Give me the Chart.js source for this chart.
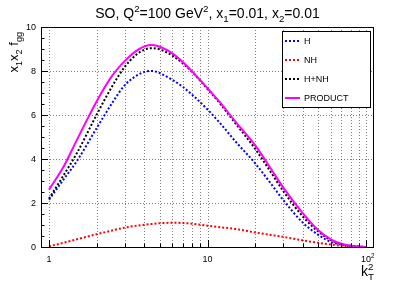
<!DOCTYPE html>
<html>
<head>
<meta charset="utf-8">
<script src="https://cdn.jsdelivr.net/npm/chart.js@4"></script>
<style>
  html, body { margin: 0; padding: 0; background: #fff; }
  #c { display: block; }
</style>
</head>
<body>
<canvas id="c" width="415" height="283"></canvas>
<script>
// values
var kT = [1, 1.25, 1.5, 2, 2.5, 3, 3.5, 4, 4.5, 5, 6, 7, 8, 10, 12, 15, 20, 25, 30, 40, 50, 60, 70, 80, 90, 100];
var H = [2.15, 3.12, 3.91, 5.41, 6.54, 7.35, 7.75, 7.96, 8.0, 7.9, 7.6, 7.27, 6.92, 6.25, 5.63, 4.8, 3.8, 2.9, 2.14, 1.1, 0.55, 0.23, 0.1, 0.04, 0.01, 0];
var NH = [0.03, 0.2, 0.35, 0.58, 0.75, 0.88, 0.96, 1.01, 1.05, 1.08, 1.1, 1.09, 1.06, 0.97, 0.9, 0.82, 0.66, 0.55, 0.46, 0.3, 0.19, 0.11, 0.06, 0.03, 0.01, 0];
var HNH = [2.2, 3.32, 4.27, 6.02, 7.3, 8.18, 8.7, 8.97, 9.04, 8.98, 8.7, 8.34, 7.96, 7.18, 6.52, 5.62, 4.46, 3.42, 2.55, 1.38, 0.7, 0.32, 0.14, 0.06, 0.02, 0];
var PROD = [2.6, 3.72, 4.87, 6.63, 7.78, 8.45, 8.88, 9.12, 9.18, 9.1, 8.8, 8.4, 7.98, 7.22, 6.57, 5.7, 4.62, 3.58, 2.71, 1.53, 0.76, 0.35, 0.15, 0.06, 0.02, 0];

var seriesNames = ["H", "NH", "H+NH", "PRODUCT"];
var yTicks = [0, 2, 4, 6, 8, 10];
var xGrid = [1, 2, 3, 4, 5, 6, 7, 8, 9, 10, 20, 30, 40, 50, 60, 70, 80, 90, 100];
var xLabels = [1, 10, 100];

var FONT = '"Liberation Sans", Arial, sans-serif';

function pts(arr) {
  return kT.map(function (k, i) { return { x: k, y: arr[i] }; });
}

// text with sub/superscripts: parts = [[text, "n"|"sub"|"sup"], ...]
function richWidth(ctx, parts, size) {
  var w = 0;
  parts.forEach(function (p) {
    var s = p[1] == "n" ? size : size * 0.7;
    ctx.font = s + "px " + FONT;
    if (p[2] !== "stack") w += ctx.measureText(p[0]).width;
  });
  return w;
}
function drawRich(ctx, parts, x, y, size) {
  var cx = x;
  ctx.textAlign = "left";
  ctx.textBaseline = "alphabetic";
  parts.forEach(function (p) {
    var s = p[1] == "n" ? size : size * 0.7;
    ctx.font = s + "px " + FONT;
    var dy = 0;
    if (p[1] == "sup") dy = -size * 0.42;
    if (p[1] == "sub") dy = size * 0.28;
    ctx.fillText(p[0], cx, y + dy);
    if (p[2] !== "stack") cx += ctx.measureText(p[0]).width;
  });
}

var decor = {
  id: "decor",
  beforeDraw: function (chart) {
    var ctx = chart.ctx;
    ctx.save();
    ctx.fillStyle = "#fff";
    ctx.fillRect(0, 0, chart.width, chart.height);
    ctx.restore();
  },
  beforeDatasetsDraw: function (chart) {
    var ctx = chart.ctx, a = chart.chartArea;
    var xs = chart.scales.x, ys = chart.scales.y;
    ctx.save();
    ctx.strokeStyle = "rgba(0,0,0,0.5)";
    ctx.lineWidth = 1;
    ctx.setLineDash([1, 2]);
    xGrid.forEach(function (v) {
      var px = Math.round(xs.getPixelForValue(v)) + 0.5;
      ctx.beginPath();
      ctx.moveTo(px, a.top);
      ctx.lineTo(px, a.bottom);
      ctx.stroke();
    });
    yTicks.forEach(function (v) {
      var py = Math.round(ys.getPixelForValue(v)) + 0.5;
      ctx.beginPath();
      ctx.moveTo(a.left, py);
      ctx.lineTo(a.right, py);
      ctx.stroke();
    });
    ctx.restore();
  },
  afterDraw: function (chart) {
    var ctx = chart.ctx, a = chart.chartArea;
    var xs = chart.scales.x, ys = chart.scales.y;
    ctx.save();
    ctx.setLineDash([]);
    ctx.strokeStyle = "#000";
    ctx.lineWidth = 1;
    // frame
    ctx.strokeRect(Math.round(a.left) + 0.5, Math.round(a.top) + 0.5,
      Math.round(a.right - a.left), Math.round(a.bottom - a.top));

    // y ticks (major every 2, minor every 0.5)
    for (var v = 0; v <= 10.001; v += 0.5) {
      var py = Math.round(ys.getPixelForValue(v)) + 0.5;
      var len = (Math.abs(v / 2 - Math.round(v / 2)) < 0.01) ? 7 : 3.5;
      ctx.beginPath();
      ctx.moveTo(a.left, py);
      ctx.lineTo(a.left + len, py);
      ctx.stroke();
    }
    // x ticks
    xGrid.forEach(function (v) {
      var px = Math.round(xs.getPixelForValue(v)) + 0.5;
      var len = xLabels.indexOf(v) >= 0 ? 7 : 3.5;
      ctx.beginPath();
      ctx.moveTo(px, a.bottom);
      ctx.lineTo(px, a.bottom - len);
      ctx.stroke();
    });

    ctx.fillStyle = "#000";
    // y tick labels
    ctx.font = "9px " + FONT;
    ctx.textAlign = "right";
    ctx.textBaseline = "middle";
    yTicks.forEach(function (v) {
      ctx.fillText(String(v), a.left - 5, ys.getPixelForValue(v) + 0.5);
    });
    // x tick labels
    ctx.textAlign = "center";
    ctx.textBaseline = "alphabetic";
    xLabels.forEach(function (v) {
      var px = xs.getPixelForValue(v);
      if (v == 100) {
        drawRich(ctx, [["10", "n"], ["2", "sup"]], px - 5, 262, 9);
      } else {
        ctx.font = "9px " + FONT;
        ctx.textAlign = "center";
        ctx.fillText(String(v), px, 262);
      }
    });

    // title
    var tparts = [["SO, Q", "n"], ["2", "sup"], ["=100 GeV", "n"], ["2", "sup"],
      [", x", "n"], ["1", "sub"], ["=0.01, x", "n"], ["2", "sub"], ["=0.01", "n"]];
    var tw = richWidth(ctx, tparts, 14);
    drawRich(ctx, tparts, 207.5 - tw / 2, 18, 14);

    // y axis title (rotated, aligned to the top)
    var yparts = [["x", "n"], ["1", "sub"], ["x", "n"], ["2", "sub"], [" f", "n"], ["gg", "sub"]];
    var yw = richWidth(ctx, yparts, 13);
    ctx.save();
    ctx.translate(18, 32);
    ctx.rotate(-Math.PI / 2);
    drawRich(ctx, yparts, -yw, 0, 13);
    ctx.restore();

    // x axis title
    drawRich(ctx, [["k", "n"], ["2", "sup", "stack"], ["T", "sub"]], 361, 276, 14);

    // legend
    var lx = 282, ly = 31, lw = 88, lh = 76;
    ctx.fillStyle = "#fff";
    ctx.fillRect(lx, ly, lw, lh);
    ctx.strokeStyle = "#000";
    ctx.lineWidth = 1;
    ctx.strokeRect(lx + 0.5, ly + 0.5, lw, lh);
    chart.data.datasets.forEach(function (ds, i) {
      var yy = 41 + i * 19;
      ctx.strokeStyle = ds.borderColor;
      ctx.lineWidth = 2;
      ctx.setLineDash(ds.borderDash || []);
      ctx.beginPath();
      ctx.moveTo(285, yy);
      ctx.lineTo(300, yy);
      ctx.stroke();
      ctx.setLineDash([]);
      ctx.fillStyle = "#000";
      ctx.font = "9px " + FONT;
      ctx.textAlign = "left";
      ctx.textBaseline = "middle";
      ctx.fillText(ds.label, 304, yy + 0.5);
    });
    ctx.restore();
  }
};

var lineColors = ["#0000ff", "#ff0000", "#000000", "#ff00ff"];
var allSeries = [H, NH, HNH, PROD];

var datasets = allSeries.map(function (arr, i) {
  return {
    label: seriesNames[i],
    data: pts(arr),
    borderColor: lineColors[i],
    borderWidth: 2,
    borderDash: i < 3 ? [2, 2] : [],
    borderCapStyle: "butt",
    pointRadius: 0,
    fill: false,
    cubicInterpolationMode: "monotone",
    order: 4 - i
  };
});

new Chart(document.getElementById("c"), {
  type: "line",
  data: { datasets: datasets },
  options: {
    responsive: false,
    animation: false,
    devicePixelRatio: 1,
    layout: { padding: { left: 41, right: 42, top: 27, bottom: 36 } },
    plugins: { legend: { display: false }, tooltip: { enabled: false }, title: { display: false } },
    scales: {
      x: { type: "logarithmic", min: 0.89, max: 110.7, display: false },
      y: { type: "linear", min: 0, max: 10, display: false }
    }
  },
  plugins: [decor]
});
</script>
</body>
</html>
